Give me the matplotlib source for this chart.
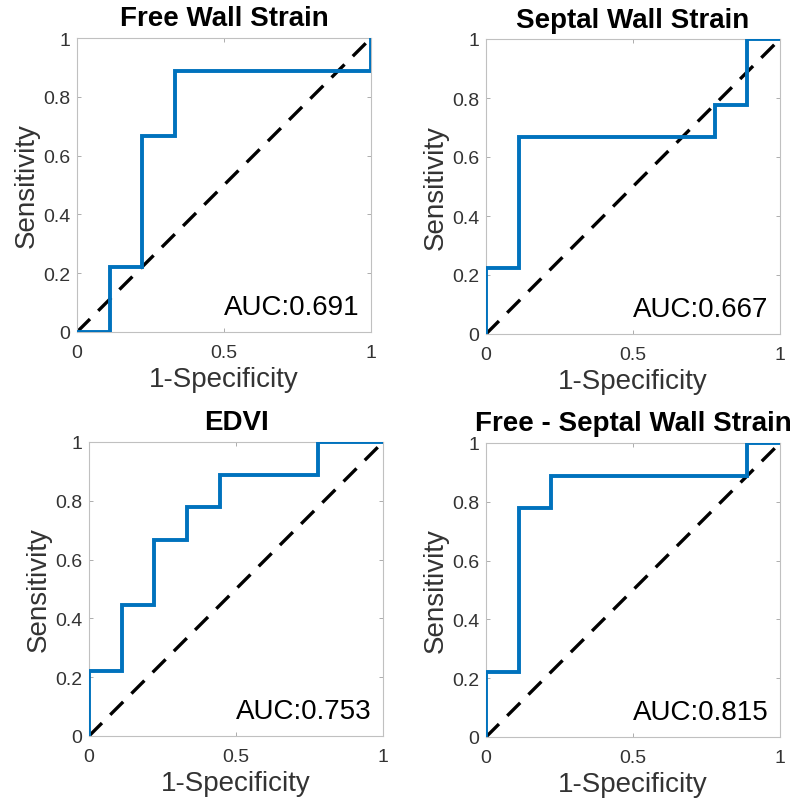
import matplotlib
matplotlib.use("Agg")
import matplotlib.pyplot as plt

titles = ["Free Wall Strain", "Septal Wall Strain", "EDVI", "Free - Septal Wall Strain"]
auc_values = ["0.691", "0.667", "0.753", "0.815"]

fpr_free = [0, 1/9, 1/9, 2/9, 2/9, 3/9, 3/9, 1, 1]
tpr_free = [0, 0, 2/9, 2/9, 6/9, 6/9, 8/9, 8/9, 1]

fpr_septal = [0, 0, 1/9, 1/9, 7/9, 7/9, 8/9, 8/9, 1]
tpr_septal = [0, 2/9, 2/9, 6/9, 6/9, 7/9, 7/9, 1, 1]

fpr_edvi = [0, 0, 1/9, 1/9, 2/9, 2/9, 3/9, 3/9, 4/9, 4/9, 7/9, 7/9, 1]
tpr_edvi = [0, 2/9, 2/9, 4/9, 4/9, 6/9, 6/9, 7/9, 7/9, 8/9, 8/9, 1, 1]

fpr_diff = [0, 0, 1/9, 1/9, 2/9, 2/9, 8/9, 8/9, 1]
tpr_diff = [0, 2/9, 2/9, 7/9, 7/9, 8/9, 8/9, 1, 1]

curves = [(fpr_free, tpr_free), (fpr_septal, tpr_septal),
          (fpr_edvi, tpr_edvi), (fpr_diff, tpr_diff)]

x_ticks = [0, 0.5, 1]
x_ticklabels = ["0", "0.5", "1"]
y_ticks = [0, 0.2, 0.4, 0.6, 0.8, 1]
y_ticklabels = ["0", "0.2", "0.4", "0.6", "0.8", "1"]

plt.rcParams['font.family'] = ['Liberation Sans', 'DejaVu Sans']

W, H = 799, 803
fig = plt.figure(figsize=(W / 100, H / 100), dpi=100)

# axes boxes in pixels: (left, top, right, bottom)
boxes = [(77, 39, 371, 333), (486, 40, 780, 335),
         (89, 443, 383, 737), (486, 444, 780, 738)]

blue = (0, 0.447, 0.741)
for (l, t, r, b), title, auc, (fx, ty) in zip(boxes, titles, auc_values, curves):
    ax = fig.add_axes([l / W, 1 - b / H, (r - l) / W, (b - t) / H])
    ax.plot([0, 1], [0, 1], color="black", lw=2.4, ls=(0, (5.5, 3.5)), zorder=2)
    ax.plot(fx, ty, color=blue, lw=2.8, zorder=3, solid_joinstyle="miter")
    ax.set_xlim(0, 1)
    ax.set_ylim(0, 1)
    ax.set_xticks(x_ticks)
    ax.set_xticklabels(x_ticklabels)
    ax.set_yticks(y_ticks)
    ax.set_yticklabels(y_ticklabels)
    ax.tick_params(direction="in", length=3, width=0.6, color="#a0a0a0",
                   labelsize=14, labelcolor="#333333", top=True, right=True)
    ax.tick_params(axis="x", pad=9)
    ax.tick_params(axis="y", pad=5)
    for s in ax.spines.values():
        s.set_color("#c0c0c0")
        s.set_linewidth(0.8)
    ax.set_xlabel("1-Specificity", fontsize=20, color="#333333", labelpad=3)
    ax.set_ylabel("Sensitivity", fontsize=20, color="#333333", labelpad=2)
    ax.set_title(title, fontsize=20, fontweight="bold", pad=9)
    ax.text(0.5, 0.085, "AUC:" + auc, fontsize=20, ha="left", va="center", color="black")

fig.savefig("out.png", dpi=100)
